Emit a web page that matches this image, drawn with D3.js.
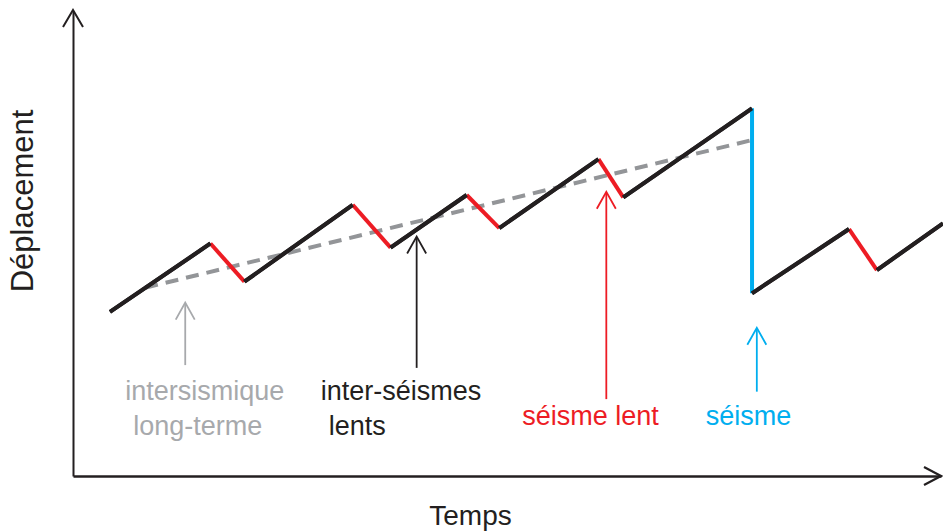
<!DOCTYPE html>
<html>
<head>
<meta charset="utf-8">
<script src="https://cdn.jsdelivr.net/npm/d3@7"></script>
<style>
  html, body { margin: 0; padding: 0; background: #fff; }
  svg { display: block; }
  text { font-family: "Liberation Sans", Arial, Helvetica, sans-serif; }
</style>
</head>
<body>
<svg id="chart" width="943" height="531"></svg>
<script>
// ---- Data (time units, displacement units) ----
const times  = [4.25, 15.8, 19.7, 32.15, 36.5, 45.25, 49.0, 60.4, 63.25, 78.05, 78.05, 89.2, 92.4, 100];
const disp   = [35.2, 49.9, 41.7, 58.2, 49.0, 60.3, 53.2, 68.0, 59.8, 78.9, 39.2, 53.0, 44.2, 54.2];
// phase of each segment between consecutive points
const phases = ["inter","lent","inter","lent","inter","lent","inter","lent","inter","seisme","inter","lent","inter"];

const trendTimes = [8.3, 78.5];
const trendDisp  = [40.4, 72.3];

const arrowKeys   = ["longterme", "inter", "lent", "seisme"];
const arrowTimes  = [12.9, 39.5, 61.3, 78.6];
const arrowFrom   = [23.8, 23.2, 16.5, 18.1];
const arrowTo     = [37.2, 51.4, 61.0, 31.8];
const arrowLabels = [["intersismique", "long-terme"], ["inter-séismes", "lents"], ["séisme lent"], ["séisme"]];

const xLabel = "Temps";
const yLabel = "Déplacement";

// ---- Styles ----
const colors = { inter: "#231f20", lent: "#ed1c24", seisme: "#00aeef", longterme: "#939598" };
const textColors = { longterme: "#a7a9ac", inter: "#231f20", lent: "#ed1c24", seisme: "#00aeef" };
const labelOffsets = { longterme: [[-60, 0], [-52, 35]], inter: [[-96, 0], [-88, 35]], lent: [[-84, 25]], seisme: [[-51, 25]] };
const labelBaseY = 400;

const svg = d3.select("#chart");
const x = d3.scaleLinear().domain([0, 100]).range([73, 943]);
const y = d3.scaleLinear().domain([0, 100]).range([476, 10]);

// ---- Axes (no ticks) with open arrowheads ----
const axisColor = "#231f20";
const xAxisScale = x.copy().range([73, 941]);
const yAxisScale = y.copy().range([476, 11]);
svg.append("g").attr("transform", `translate(0,${y(0)})`)
  .call(d3.axisBottom(xAxisScale).tickValues([]).tickSizeOuter(0))
  .call(g => g.select(".domain").attr("stroke", axisColor).attr("stroke-width", 2.4));
svg.append("g").attr("transform", `translate(${x(0)},0)`)
  .call(d3.axisLeft(yAxisScale).tickValues([]).tickSizeOuter(0))
  .call(g => g.select(".domain").attr("stroke", axisColor).attr("stroke-width", 2));

function chevron(tipX, tipY, dir, len, half, color, width) {
  let p;
  if (dir === "up") p = [[tipX - half, tipY + len], [tipX, tipY], [tipX + half, tipY + len]];
  else p = [[tipX - len, tipY - half], [tipX, tipY], [tipX - len, tipY + half]];
  svg.append("path").attr("d", d3.line()(p)).attr("fill", "none")
    .attr("stroke", color).attr("stroke-width", width).attr("stroke-linejoin", "miter");
}
chevron(x(0), yAxisScale(100) - 1, "up", 17, 10, axisColor, 2);
chevron(xAxisScale(100), y(0), "right", 17, 9, axisColor, 2.2);

// ---- Long-term trend (dashed) ----
const line = d3.line().x(d => x(d[0])).y(d => y(d[1]));
svg.append("path")
  .attr("d", line(trendTimes.map((t, i) => [t, trendDisp[i]])))
  .attr("fill", "none").attr("stroke", colors.longterme)
  .attr("stroke-width", 4).attr("stroke-dasharray", "13 8");

// ---- Sawtooth displacement ----
const segs = phases.map((p, i) => ({ p, pts: [[times[i], disp[i]], [times[i + 1], disp[i + 1]]] }));
svg.append("g").selectAll("path").data(segs).join("path")
  .attr("d", d => line(d.pts))
  .attr("fill", "none")
  .attr("stroke", d => colors[d.p])
  .attr("stroke-width", 4)
  .attr("stroke-linecap", "butt");
// draw in order so black overlaps joints nicely: redraw black segments on top
svg.append("g").selectAll("path").data(segs.filter(d => d.p === "inter")).join("path")
  .attr("d", d => line(d.pts))
  .attr("fill", "none").attr("stroke", colors.inter).attr("stroke-width", 4);

// ---- Annotation arrows and labels ----
arrowKeys.forEach((k, i) => {
  const ax = x(arrowTimes[i]);
  const c = k === "longterme" ? "#a7a9ac" : colors[k];
  svg.append("line")
    .attr("x1", ax).attr("x2", ax)
    .attr("y1", y(arrowFrom[i])).attr("y2", y(arrowTo[i]) + 1)
    .attr("stroke", c).attr("stroke-width", 1.8);
  chevron(ax, y(arrowTo[i]), "up", 17, 9.5, c, 1.8);
  arrowLabels[i].forEach((txt, j) => {
    const off = labelOffsets[k][j];
    svg.append("text")
      .attr("x", ax + off[0]).attr("y", labelBaseY + off[1])
      .attr("fill", textColors[k]).attr("font-size", 27)
      .text(txt);
  });
});

// ---- Axis titles ----
svg.append("text").attr("x", 470.5).attr("y", 525)
  .attr("text-anchor", "middle").attr("font-size", 28).attr("fill", axisColor).text(xLabel);
svg.append("text").attr("transform", "translate(33,201) rotate(-90)")
  .attr("text-anchor", "middle").attr("font-size", 31).attr("fill", axisColor).text(yLabel);
</script>
</body>
</html>
